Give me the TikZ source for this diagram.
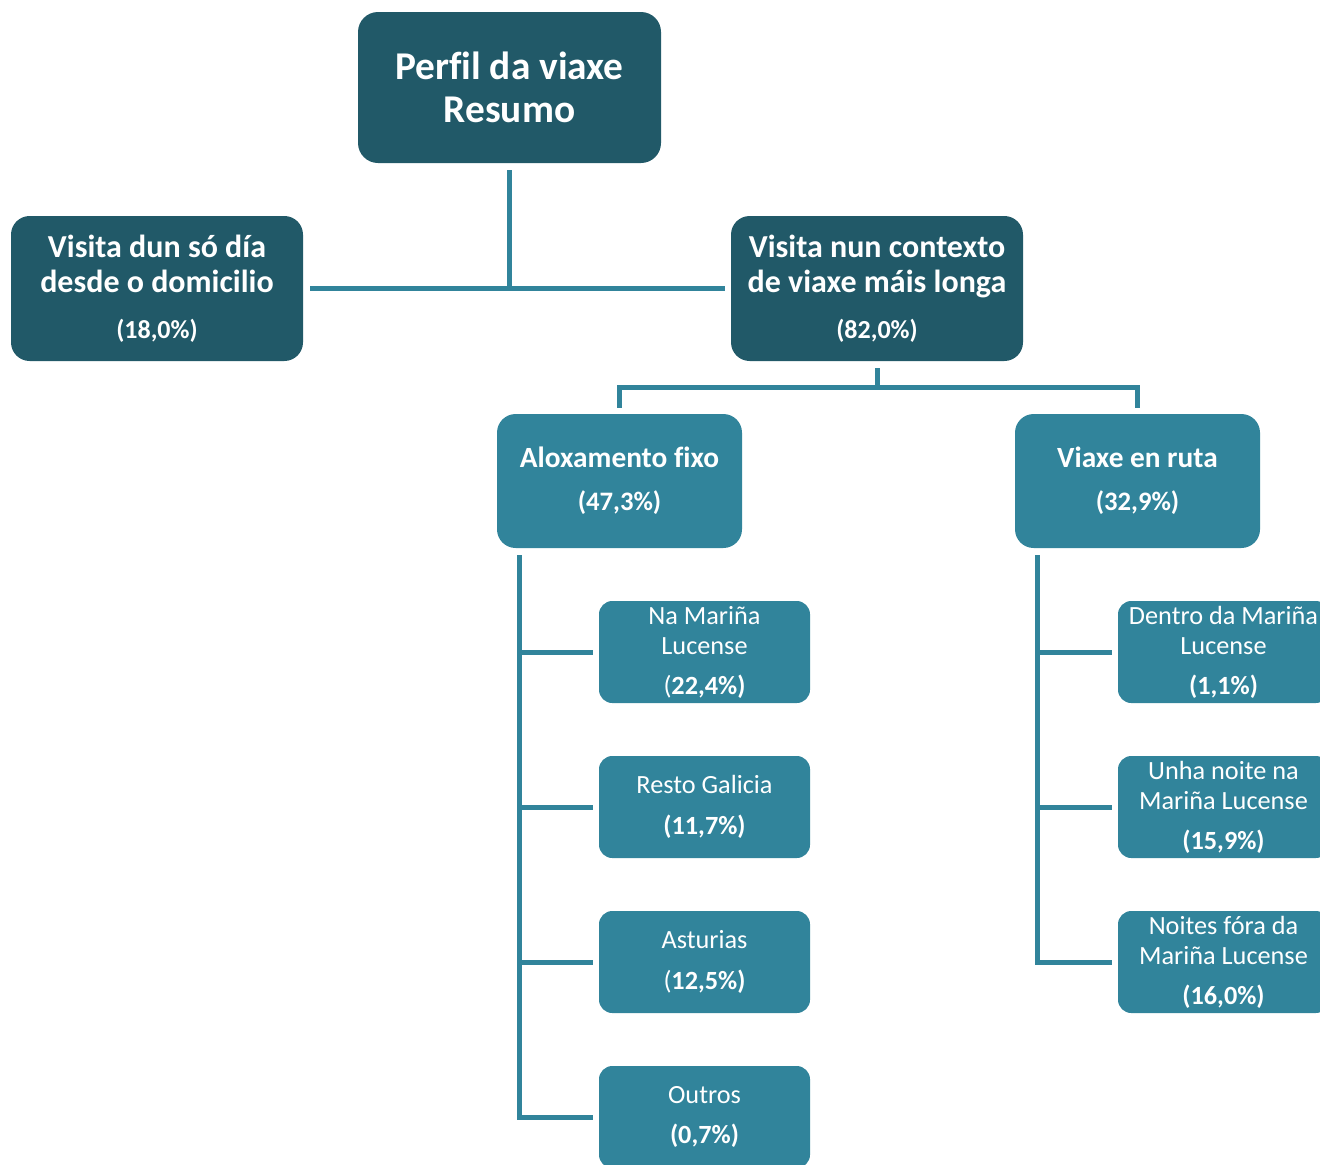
\documentclass[tikz,border=0pt]{standalone}
\usepackage{fontspec}
\setmainfont{Carlito}[RawFeature=-liga]
\definecolor{dkc}{HTML}{215968}
\definecolor{ltc}{HTML}{31849B}
\newcommand\fsz[2]{\fontsize{#1pt}{#2pt}\selectfont}
\tikzset{
  base/.style={draw=none, inner sep=0pt, text=white, align=center},
  topbox/.style={base, fill=dkc, rounded corners=15pt, minimum width=227.25pt, minimum height=113.25pt, font=\fsz{29.5}{32.3}\bfseries},
  lvone/.style={base, fill=dkc, rounded corners=14pt, minimum width=219pt, minimum height=108.75pt, font=\fsz{24}{26.3}\bfseries},
  lvtwo/.style={base, fill=ltc, rounded corners=14pt, minimum width=183.75pt, minimum height=100.5pt, font=\fsz{22}{26}\bfseries},
  leaf/.style={base, fill=ltc, rounded corners=10pt, minimum width=158.25pt, minimum height=76.5pt, font=\fsz{19.7}{22.5}},
  conn/.style={draw=ltc, line width=3.75pt},
}
\begin{document}
\begin{tikzpicture}[x=0.75pt, y=-0.75pt]
\useasboundingbox (0,0) rectangle (1320,1164);
\clip (0,0) rectangle (1320,1164);
% boxes
\node[topbox] (title) at (509.5,87.5) {Perfil da viaxe\\Resumo};
\node[lvone] (day) at (157,288.5) {Visita dun só día\\desde o domicilio\\[8pt]\fsz{19.5}{22}\bfseries (18,0\%)};
\node[lvone] (long) at (877,288.5) {Visita nun contexto\\de viaxe máis longa\\[8pt]\fsz{19.5}{22}\bfseries (82,0\%)};
\node[lvtwo] (fix) at (619.5,481) {Aloxamento fixo\\[6pt]\fsz{20}{24}\bfseries (47,3\%)};
\node[lvtwo] (route) at (1137.5,481) {Viaxe en ruta\\[6pt]\fsz{20}{24}\bfseries (32,9\%)};
\node[leaf] (f1) at (704.5,652) {Na Mariña\\Lucense\\[7.5pt](\textbf{22,4\%)}};
\node[leaf] (f2) at (704.5,807) {Resto Galicia\\[8pt]\textbf{(11,7\%)}};
\node[leaf] (f3) at (704.5,962) {Asturias\\[8pt](\textbf{12,5\%)}};
\node[leaf] (f4) at (704.5,1117) {Outros\\[8pt]\textbf{(0,7\%)}};
\node[leaf] (r1) at (1223.5,652) {Dentro da Mariña\\Lucense\\[7.5pt]\textbf{(1,1\%)}};
\node[leaf] (r2) at (1223.5,807) {Unha noite na\\Mariña Lucense\\[7.5pt]\textbf{(15,9\%)}};
\node[leaf] (r3) at (1223.5,962) {Noites fóra da\\Mariña Lucense\\[7.5pt]\textbf{(16,0\%)}};
% connectors level 1
\draw[conn, shorten <=5.25pt, shorten >=4.5pt] (day) -- (long);
\draw[conn, shorten <=5.25pt] (title) -- (title |- day);
% connectors level 2
\coordinate (j) at (877,387);
\draw[conn, shorten <=5.25pt] (long) -- (j);
\draw[conn, shorten <=4.5pt, shorten >=4.5pt] (fix.north) |- (j) -| (route.north);
% fixed accommodation branch
\coordinate (ft) at (519,548);
\coordinate (rt) at (1037,548);
\draw[conn, shorten <=5.25pt, shorten >=4.5pt] (ft) -- (ft |- f4) -- (f4.west);
\draw[conn, shorten >=4.5pt] (ft |- f1) -- (f1.west);
\draw[conn, shorten >=4.5pt] (ft |- f2) -- (f2.west);
\draw[conn, shorten >=4.5pt] (ft |- f3) -- (f3.west);
% route branch
\draw[conn, shorten <=5.25pt, shorten >=4.5pt] (rt) -- (rt |- r3) -- (r3.west);
\draw[conn, shorten >=4.5pt] (rt |- r1) -- (r1.west);
\draw[conn, shorten >=4.5pt] (rt |- r2) -- (r2.west);
\end{tikzpicture}
\end{document}
